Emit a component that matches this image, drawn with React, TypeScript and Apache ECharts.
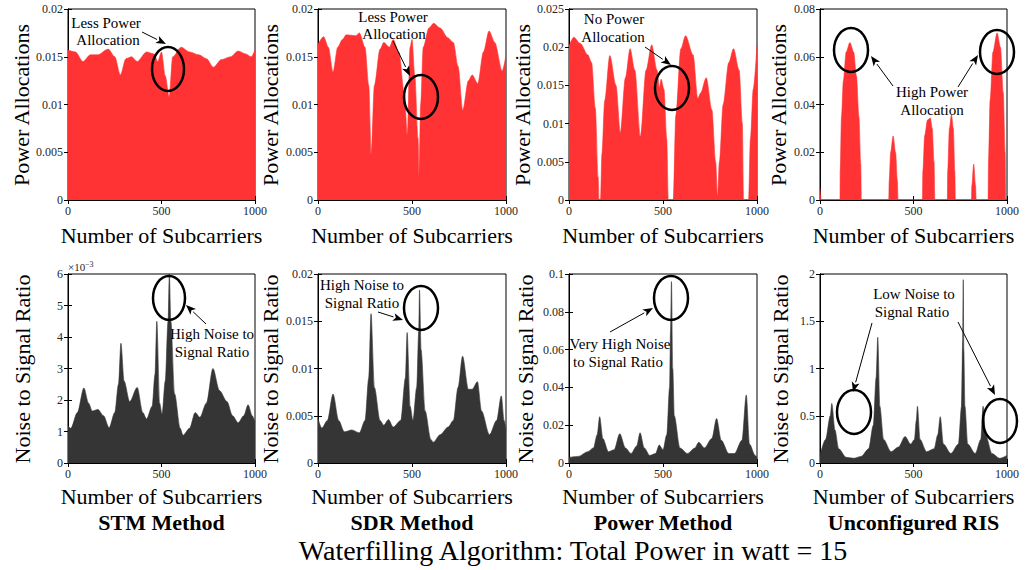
import React, { useEffect, useRef } from "react";
import * as echarts from "echarts";

type P = [number, number];

const xTicks = { min: 0, max: 1000, interval: 500 };
const methodNames = ["STM Method", "SDR Method", "Power Method", "Unconfigured RIS"];
const chartTitle = "Waterfilling Algorithm: Total Power in watt = 15";
const xName = "Number of Subcarriers";
const yNameTop = "Power Allocations";
const yNameBottom = "Noise to Signal Ratio";

const yMax = [0.02, 0.02, 0.025, 0.08, 6, 0.02, 0.1, 2];
const yStep = [0.005, 0.005, 0.005, 0.02, 1, 0.005, 0.02, 0.5];

const stmPower: P[] = [
  [0, 0.0157], [40, 0.0155], [80, 0.0145], [120, 0.0152], [160, 0.0152], [215, 0.0158], [250, 0.015],
  [280, 0.0131], [310, 0.0148], [340, 0.015], [370, 0.0145], [420, 0.0155], [460, 0.0153], [480, 0.0145],
  [500, 0.0155], [520, 0.013], [541, 0.0108], [560, 0.015], [605, 0.016], [650, 0.0155], [700, 0.0152],
  [740, 0.0148], [778, 0.0139], [820, 0.0147], [870, 0.015], [910, 0.0156], [950, 0.0153], [980, 0.015],
  [1000, 0.0157],
];
const sdrPower: P[] = [
  [0, 0.0163], [30, 0.0171], [55, 0.016], [80, 0.0134], [105, 0.016], [130, 0.0168], [150, 0.0173],
  [200, 0.0172], [220, 0.0175], [250, 0.016], [270, 0.012], [283, 0.0048], [300, 0.012], [330, 0.0158],
  [350, 0.0165], [380, 0.016], [400, 0.0168], [430, 0.0155], [460, 0.011], [475, 0.0068], [490, 0.016],
  [500, 0.0168], [515, 0.013], [532, 0.0065], [538, 0.0025], [546, 0.01], [560, 0.016], [590, 0.018],
  [615, 0.0185], [650, 0.018], [690, 0.017], [720, 0.0165], [745, 0.014], [770, 0.0094], [800, 0.0125],
  [820, 0.0131], [850, 0.0122], [880, 0.0155], [910, 0.0177], [940, 0.0165], [980, 0.0135], [1000, 0.0152],
];
const pmPower: P[] = [
  [0, 0.0201], [25, 0.0213], [60, 0.0205], [100, 0.019], [120, 0.018], [140, 0.012], [155, 0.003],
  [160, 0], [168, 0], [175, 0.006], [190, 0.013], [217, 0.0189], [250, 0.015], [273, 0.0088], [300, 0.016],
  [325, 0.0198], [350, 0.017], [380, 0.0083], [410, 0.017], [440, 0.0203], [468, 0.017], [481, 0.0147],
  [490, 0.0158], [505, 0.0145], [520, 0.008], [528, 0], [555, 0], [568, 0.011], [595, 0.0198],
  [620, 0.0215], [660, 0.019], [685, 0.0133], [700, 0.014], [730, 0.016], [760, 0.0118], [780, 0.005],
  [790, 0.0005], [800, 0.005], [820, 0.0125], [850, 0.018], [875, 0.0198], [905, 0.017], [922, 0.01],
  [929, 0], [955, 0], [965, 0.008], [980, 0.0145], [1000, 0.0203],
];
const risPower: P[] = [
  [0, 0.005], [3, 0.002], [5, 0], [107, 0], [108, 0.012], [115, 0.035], [125, 0.05], [140, 0.062],
  [160, 0.066], [180, 0.062], [195, 0.052], [208, 0.035], [218, 0.015], [221, 0], [368, 0],
  [370, 0.008], [378, 0.02], [391, 0.0268], [404, 0.02], [414, 0.008], [417, 0], [548, 0],
  [550, 0.012], [560, 0.027], [575, 0.0335], [590, 0.0343], [600, 0.03], [610, 0.016], [614, 0],
  [681, 0], [683, 0.012], [692, 0.03], [703, 0.0357], [713, 0.03], [721, 0.012], [724, 0], [810, 0],
  [812, 0.006], [822, 0.015], [832, 0.006], [835, 0], [899, 0], [901, 0.015], [910, 0.042],
  [925, 0.062], [947, 0.07], [965, 0.064], [980, 0.045], [990, 0.02], [993, 0], [1000, 0],
];
// values in units of 1e-3
const stmNsrE3: P[] = [
  [0, 1.18], [15, 1.1], [50, 1.6], [85, 2.38], [110, 1.9], [130, 1.65], [160, 1.7], [190, 1.5],
  [220, 1.12], [250, 1.6], [270, 2.5], [283, 3.8], [300, 2.6], [330, 1.95], [370, 2.4], [400, 1.6],
  [420, 1.4], [450, 1.8], [465, 2.8], [475, 4.5], [490, 1.9], [503, 1.55], [520, 2.6], [535, 4.5],
  [542, 6.0], [550, 4.5], [570, 2.2], [600, 1.1], [615, 0.88], [650, 1.1], [680, 1.6], [705, 1.45],
  [740, 1.9], [775, 3.0], [810, 2.3], [850, 1.95], [880, 1.5], [910, 1.28], [940, 1.5], [963, 1.85],
  [985, 1.5], [1000, 1.3],
];
const sdrNsr: P[] = [
  [0, 0.0047], [20, 0.0037], [50, 0.0045], [80, 0.0073], [110, 0.0045], [140, 0.0033], [180, 0.0035],
  [220, 0.0032], [250, 0.0045], [270, 0.009], [282, 0.0158], [300, 0.008], [330, 0.0045], [350, 0.004],
  [375, 0.0046], [400, 0.0038], [440, 0.0045], [465, 0.009], [474, 0.0138], [490, 0.006], [505, 0.0045],
  [525, 0.008], [536, 0.014], [540, 0.0183], [548, 0.012], [570, 0.0055], [600, 0.0025], [613, 0.0022],
  [650, 0.003], [692, 0.0038], [720, 0.0045], [745, 0.008], [769, 0.0113], [800, 0.0078], [820, 0.0078],
  [848, 0.0086], [870, 0.0055], [912, 0.003], [950, 0.0045], [975, 0.0071], [990, 0.0045], [1000, 0.0035],
];
const pmNsr: P[] = [
  [0, 0.003], [50, 0.0035], [100, 0.006], [130, 0.008], [150, 0.015], [163, 0.0245], [180, 0.013],
  [210, 0.006], [240, 0.007], [270, 0.0155], [300, 0.008], [330, 0.005], [360, 0.009], [378, 0.016],
  [400, 0.008], [430, 0.004], [460, 0.005], [480, 0.0095], [500, 0.007], [520, 0.015], [535, 0.04],
  [540, 0.07], [545, 0.096], [552, 0.05], [560, 0.025], [590, 0.008], [630, 0.005], [670, 0.008],
  [690, 0.011], [720, 0.008], [760, 0.013], [785, 0.0235], [810, 0.012], [850, 0.005], [880, 0.005],
  [920, 0.012], [943, 0.036], [960, 0.01], [990, 0.004], [1000, 0.003],
];
const risNsr: P[] = [
  [0, 0.08], [30, 0.25], [55, 0.5], [63, 0.63], [80, 0.35], [100, 0.15], [140, 0.06], [180, 0.05],
  [220, 0.07], [260, 0.15], [285, 0.4], [300, 0.9], [309, 1.33], [320, 0.6], [340, 0.25], [380, 0.12],
  [420, 0.17], [455, 0.28], [485, 0.2], [505, 0.25], [515, 0.45], [521, 0.6], [535, 0.25], [570, 0.12],
  [610, 0.15], [630, 0.3], [643, 0.49], [660, 0.2], [700, 0.1], [740, 0.2], [757, 0.6], [763, 1.3],
  [766, 1.94], [769, 1.2], [775, 0.6], [790, 0.2], [830, 0.1], [860, 0.25], [872, 0.6], [885, 0.3],
  [920, 0.1], [960, 0.05], [1000, 0.08],
];

const seriesData = [stmPower, sdrPower, pmPower, risPower, stmNsrE3, sdrNsr, pmNsr, risNsr];

const SERIF = "'Liberation Serif', 'Times New Roman', serif";
const RED = "#ff3333";
const DARK = "#353535";

const gridLeft = [68, 318, 569, 820];
const gridWidth = [187, 188, 188, 187];
const rowTop = [9, 274];
const rowHeight = [191, 189];

function txt(text: string, x: number, y: number, size: number, opts: any = {}) {
  return {
    type: "text",
    z: 100,
    x,
    y,
    rotation: opts.rotation || 0,
    style: {
      text,
      x: 0,
      y: 0,
      font: `${opts.bold ? "bold " : ""}${size}px ${SERIF}`,
      fill: opts.color || "#000",
      textAlign: opts.align || "center",
      textVerticalAlign: "middle",
      align: opts.align || "center",
      verticalAlign: "middle",
    },
  };
}

function ellipse(cx: number, cy: number, rx = 17, ry = 22) {
  return {
    type: "ellipse",
    z: 100,
    shape: { cx, cy, rx, ry },
    style: { fill: "none", stroke: "#000", lineWidth: 2.5 },
  };
}

function arrow(x1: number, y1: number, x2: number, y2: number) {
  const dx = x2 - x1;
  const dy = y2 - y1;
  const len = Math.sqrt(dx * dx + dy * dy);
  const ux = dx / len;
  const uy = dy / len;
  const hl = 10;
  const hw = 4;
  const bx = x2 - ux * hl;
  const by = y2 - uy * hl;
  return [
    {
      type: "line",
      z: 100,
      shape: { x1, y1, x2: bx, y2: by },
      style: { stroke: "#000", lineWidth: 1 },
    },
    {
      type: "polygon",
      z: 100,
      shape: {
        points: [
          [x2, y2],
          [bx - uy * hw, by + ux * hw],
          [bx + ux * 2.5, by + uy * 2.5],
          [bx + uy * hw, by - ux * hw],
        ],
      },
      style: { fill: "#000" },
    },
  ];
}

export default function App() {
  const ref = useRef<HTMLDivElement>(null);
  useEffect(() => {
    if (!ref.current) return;
    const chart = echarts.init(ref.current, undefined, { renderer: "svg" });
    const grids: any[] = [];
    const xAxes: any[] = [];
    const yAxes: any[] = [];
    const series: any[] = [];
    const tickStyle = { show: true, inside: true, length: 4, lineStyle: { color: "#000", width: 1 } };
    const labelStyle = {
      fontFamily: SERIF,
      fontSize: 12,
      color: "#262626",
      formatter: (v: number) => String(+v.toPrecision(6)),
    };
    for (let i = 0; i < 8; i++) {
      const r = i < 4 ? 0 : 1;
      const c = i % 4;
      grids.push({
        left: gridLeft[c],
        top: rowTop[r],
        width: gridWidth[c],
        height: rowHeight[r],
        show: true,
        borderColor: "#000",
        borderWidth: 1,
        backgroundColor: "#fff",
      });
    }
    for (let i = 0; i < 8; i++) {
      xAxes.push({
        type: "value",
        gridIndex: i,
        position: "bottom",
        min: xTicks.min,
        max: xTicks.max,
        interval: xTicks.interval,
        splitLine: { show: false },
        axisLine: { show: true, lineStyle: { color: "#000", width: 1 } },
        axisTick: tickStyle,
        axisLabel: { ...labelStyle, margin: 5 },
      });
      yAxes.push({
        type: "value",
        gridIndex: i,
        position: "left",
        min: 0,
        max: yMax[i],
        interval: yStep[i],
        splitLine: { show: false },
        axisLine: { show: true, lineStyle: { color: "#000", width: 1 } },
        axisTick: tickStyle,
        axisLabel: { ...labelStyle, margin: 5 },
      });
    }
    for (let i = 0; i < 8; i++) {
      xAxes.push({
        type: "value",
        gridIndex: i,
        position: "top",
        min: xTicks.min,
        max: xTicks.max,
        interval: xTicks.interval,
        splitLine: { show: false },
        axisLine: { show: true, lineStyle: { color: "#000", width: 1 } },
        axisTick: tickStyle,
        axisLabel: { show: false },
      });
      yAxes.push({
        type: "value",
        gridIndex: i,
        position: "right",
        min: 0,
        max: yMax[i],
        interval: yStep[i],
        splitLine: { show: false },
        axisLine: { show: true, lineStyle: { color: "#000", width: 1 } },
        axisTick: tickStyle,
        axisLabel: { show: false },
      });
    }
    for (let i = 0; i < 8; i++) {
      const col = i < 4 ? RED : DARK;
      series.push({
        type: "line",
        xAxisIndex: i,
        yAxisIndex: i,
        data: seriesData[i],
        showSymbol: false,
        symbol: "none",
        smooth: 0.3,
        smoothMonotone: "x",
        clip: true,
        lineStyle: { color: col, width: 0.6 },
        areaStyle: { color: col, opacity: 1 },
        z: 2,
      });
    }

    const centers = gridLeft.map((l, k) => l + gridWidth[k] / 2);
    const yNameXTop = [21, 270, 522, 778];
    const yNameXBot = [22, 270, 525, 780];
    const graphics: any[] = [];
    for (let c = 0; c < 4; c++) {
      graphics.push(txt(xName, centers[c], 235, 22));
      graphics.push(txt(xName, centers[c], 496, 22));
      graphics.push(txt(yNameTop, yNameXTop[c], 105, 22, { rotation: Math.PI / 2 }));
      graphics.push(txt(yNameBottom, yNameXBot[c], 369, 22, { rotation: Math.PI / 2 }));
      graphics.push(txt(methodNames[c], centers[c], 522, 22, { bold: true }));
    }
    graphics.push(txt(chartTitle, 573, 550, 28));
    graphics.push(txt("×10", 68, 267, 11, { align: "left", color: "#262626" }));
    graphics.push(txt("−3", 85, 264, 8, { align: "left", color: "#262626" }));

    // annotations
    graphics.push(ellipse(168, 69, 16, 22));
    graphics.push(txt("Less Power", 106, 23, 15));
    graphics.push(txt("Allocation", 108, 40, 15));
    graphics.push(...arrow(142, 32, 166, 44));

    graphics.push(ellipse(421, 97));
    graphics.push(txt("Less Power", 393, 17, 15));
    graphics.push(txt("Allocation", 394, 34, 15));
    graphics.push(...arrow(393, 41, 410, 76));

    graphics.push(ellipse(672, 88));
    graphics.push(txt("No Power", 614, 19, 15));
    graphics.push(txt("Allocation", 613, 37, 15));
    graphics.push(...arrow(645, 47, 671, 65));

    graphics.push(ellipse(851, 50));
    graphics.push(ellipse(997, 52));
    graphics.push(txt("High Power", 932, 92, 15));
    graphics.push(txt("Allocation", 932, 110, 15));
    graphics.push(...arrow(893, 86, 871, 56));
    graphics.push(...arrow(958, 87, 978, 55));

    graphics.push(ellipse(169, 298, 16, 22));
    graphics.push(txt("High Noise to", 212, 334, 15));
    graphics.push(txt("Signal Ratio", 212, 352, 15));
    graphics.push(...arrow(206, 324, 186, 305));

    graphics.push(ellipse(421, 308));
    graphics.push(txt("High Noise to", 362, 285, 15));
    graphics.push(txt("Signal Ratio", 362, 303, 15));
    graphics.push(...arrow(378, 312, 403, 320));

    graphics.push(ellipse(671, 298));
    graphics.push(txt("Very High Noise", 620, 344, 15));
    graphics.push(txt("to Signal Ratio", 618, 362, 15));
    graphics.push(...arrow(610, 332, 653, 308));

    graphics.push(ellipse(854, 412));
    graphics.push(ellipse(1000, 421));
    graphics.push(txt("Low Noise to", 914, 294, 15));
    graphics.push(txt("Signal Ratio", 912, 312, 15));
    graphics.push(...arrow(872, 323, 853, 392));
    graphics.push(...arrow(958, 322, 995, 395));

    chart.setOption({
      animation: false,
      backgroundColor: "#fff",
      grid: grids,
      xAxis: xAxes,
      yAxis: yAxes,
      series,
      graphic: { elements: graphics },
    });
    return () => chart.dispose();
  }, []);
  return (
    <div
      ref={ref}
      style={{ position: "absolute", left: 0, top: 0, width: 1029, height: 570 }}
    />
  );
}
